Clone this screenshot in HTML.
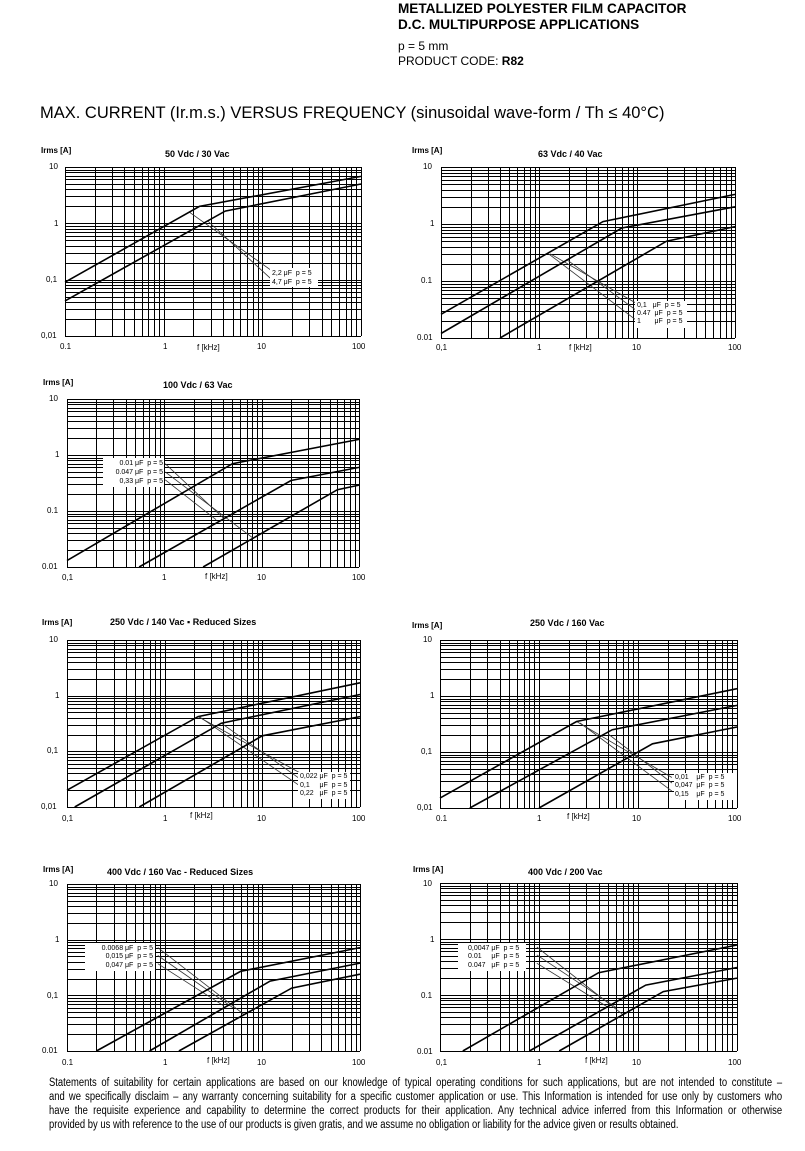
<!DOCTYPE html>
<html><head><meta charset="utf-8">
<style>
body{margin:0;background:#fff;width:805px;height:1151px;position:relative;overflow:hidden;font-family:"Liberation Sans",Arial,sans-serif;color:#000}
.t{position:absolute;white-space:nowrap;line-height:1}
.s{font-size:8px}
.b{font-weight:bold}
.lab{position:absolute;background:#fff}
.fl{position:absolute;left:49px;width:894px;font-size:11.5px;transform:scaleX(0.82);transform-origin:0 0;text-align:justify;text-align-last:justify;white-space:nowrap;line-height:1}
svg{position:absolute;left:0;top:0}
</style></head><body>
<svg id="g" width="805" height="1151"></svg>

<div class="t b" style="left:398px;top:1px;font-size:14px;transform:scaleX(0.97);transform-origin:0 0">METALLIZED POLYESTER FILM CAPACITOR</div>
<div class="t b" style="left:398px;top:17px;font-size:14px;transform:scaleX(0.97);transform-origin:0 0">D.C. MULTIPURPOSE APPLICATIONS</div>
<div class="t" style="left:398px;top:40px;font-size:12px">p = 5 mm</div>
<div class="t" style="left:398px;top:55px;font-size:12px">PRODUCT CODE: <b>R82</b></div>
<div class="t" style="left:40px;top:105px;font-size:16.5px">MAX. CURRENT (Ir.m.s.) VERSUS FREQUENCY (sinusoidal wave-form / Th ≤ 40°C)</div>

<!-- chart 1 -->
<div class="t s b" style="left:41px;top:147px">Irms [A]</div>
<div class="t b" style="left:165px;top:150px;font-size:9px">50 Vdc / 30 Vac</div>
<div class="t s" style="left:49px;top:163px">10</div>
<div class="t s" style="left:54px;top:220px">1</div>
<div class="t s" style="left:46px;top:276px">0,1</div>
<div class="t s" style="left:41px;top:332px">0,01</div>
<div class="t s" style="left:60px;top:343px">0.1</div>
<div class="t s" style="left:163px;top:343px">1</div>
<div class="t s" style="left:257px;top:343px">10</div>
<div class="t s" style="left:352px;top:343px">100</div>
<div class="t s" style="left:197px;top:344px">f [kHz]</div>
<div class="lab" style="left:270px;top:268px;width:48px;height:19px"></div>
<div class="t" style="left:272px;top:270px;font-size:7px">2,2 μF &nbsp;p = 5</div>
<div class="t" style="left:272px;top:279px;font-size:7px">4,7 μF &nbsp;p = 5</div>

<!-- chart 2 -->
<div class="t s b" style="left:412px;top:147px">Irms [A]</div>
<div class="t b" style="left:538px;top:150px;font-size:9px">63 Vdc / 40 Vac</div>
<div class="t s" style="left:423px;top:163px">10</div>
<div class="t s" style="left:430px;top:220px">1</div>
<div class="t s" style="left:421px;top:277px">0.1</div>
<div class="t s" style="left:417px;top:334px">0.01</div>
<div class="t s" style="left:436px;top:344px">0,1</div>
<div class="t s" style="left:537px;top:344px">1</div>
<div class="t s" style="left:632px;top:344px">10</div>
<div class="t s" style="left:728px;top:344px">100</div>
<div class="t s" style="left:569px;top:344px">f [kHz]</div>
<div class="lab" style="left:635px;top:301px;width:52px;height:27px"></div>
<div class="t" style="left:637px;top:302px;font-size:7px">0,1 &nbsp;&nbsp;μF &nbsp;p = 5</div>
<div class="t" style="left:637px;top:310px;font-size:7px">0.47 &nbsp;μF &nbsp;p = 5</div>
<div class="t" style="left:637px;top:318px;font-size:7px">1 &nbsp;&nbsp;&nbsp;&nbsp;&nbsp;&nbsp;μF &nbsp;p = 5</div>

<!-- chart 3 -->
<div class="t s b" style="left:43px;top:379px">Irms [A]</div>
<div class="t b" style="left:163px;top:381px;font-size:9px">100 Vdc / 63 Vac</div>
<div class="t s" style="left:49px;top:395px">10</div>
<div class="t s" style="left:55px;top:451px">1</div>
<div class="t s" style="left:47px;top:507px">0.1</div>
<div class="t s" style="left:42px;top:563px">0.01</div>
<div class="t s" style="left:62px;top:574px">0,1</div>
<div class="t s" style="left:162px;top:574px">1</div>
<div class="t s" style="left:257px;top:574px">10</div>
<div class="t s" style="left:352px;top:574px">100</div>
<div class="t s" style="left:205px;top:573px">f [kHz]</div>
<div class="lab" style="left:103px;top:458px;width:61px;height:29px"></div>
<div class="t" style="right:642px;top:460px;font-size:7px">0.01 μF &nbsp;p = 5</div>
<div class="t" style="right:642px;top:469px;font-size:7px">0.047 μF &nbsp;p = 5</div>
<div class="t" style="right:642px;top:478px;font-size:7px">0,33 μF &nbsp;p = 5</div>

<!-- chart 4 -->
<div class="t s b" style="left:42px;top:619px">Irms [A]</div>
<div class="t b" style="left:110px;top:618px;font-size:9px">250 Vdc / 140 Vac ▪ Reduced Sizes</div>
<div class="t s" style="left:49px;top:636px">10</div>
<div class="t s" style="left:55px;top:692px">1</div>
<div class="t s" style="left:47px;top:747px">0,1</div>
<div class="t s" style="left:41px;top:803px">0,01</div>
<div class="t s" style="left:62px;top:815px">0,1</div>
<div class="t s" style="left:163px;top:815px">1</div>
<div class="t s" style="left:257px;top:815px">10</div>
<div class="t s" style="left:352px;top:815px">100</div>
<div class="t s" style="left:190px;top:812px">f [kHz]</div>
<div class="lab" style="left:298px;top:772px;width:52px;height:27px"></div>
<div class="t" style="left:300px;top:773px;font-size:7px">0,022 μF &nbsp;p = 5</div>
<div class="t" style="left:300px;top:782px;font-size:7px">0,1 &nbsp;&nbsp;&nbsp;&nbsp;μF &nbsp;p = 5</div>
<div class="t" style="left:300px;top:790px;font-size:7px">0,22 &nbsp;&nbsp;μF &nbsp;p = 5</div>

<!-- chart 5 -->
<div class="t s b" style="left:412px;top:622px">Irms [A]</div>
<div class="t b" style="left:530px;top:619px;font-size:9px">250 Vdc / 160 Vac</div>
<div class="t s" style="left:423px;top:636px">10</div>
<div class="t s" style="left:430px;top:692px">1</div>
<div class="t s" style="left:421px;top:748px">0,1</div>
<div class="t s" style="left:417px;top:804px">0,01</div>
<div class="t s" style="left:436px;top:815px">0.1</div>
<div class="t s" style="left:537px;top:815px">1</div>
<div class="t s" style="left:632px;top:815px">10</div>
<div class="t s" style="left:728px;top:815px">100</div>
<div class="t s" style="left:567px;top:813px">f [kHz]</div>
<div class="lab" style="left:674px;top:773px;width:63px;height:27px"></div>
<div class="t" style="left:675px;top:774px;font-size:7px">0,01 &nbsp;&nbsp;&nbsp;μF &nbsp;p = 5</div>
<div class="t" style="left:675px;top:782px;font-size:7px">0,047 &nbsp;μF &nbsp;p = 5</div>
<div class="t" style="left:675px;top:791px;font-size:7px">0,15 &nbsp;&nbsp;&nbsp;μF &nbsp;p = 5</div>

<!-- chart 6 -->
<div class="t s b" style="left:43px;top:866px">Irms [A]</div>
<div class="t b" style="left:107px;top:868px;font-size:9px">400 Vdc / 160 Vac - Reduced Sizes</div>
<div class="t s" style="left:49px;top:880px">10</div>
<div class="t s" style="left:55px;top:936px">1</div>
<div class="t s" style="left:47px;top:992px">0,1</div>
<div class="t s" style="left:42px;top:1047px">0.01</div>
<div class="t s" style="left:62px;top:1059px">0.1</div>
<div class="t s" style="left:163px;top:1059px">1</div>
<div class="t s" style="left:257px;top:1059px">10</div>
<div class="t s" style="left:352px;top:1059px">100</div>
<div class="t s" style="left:207px;top:1057px">f [kHz]</div>
<div class="lab" style="left:85px;top:943px;width:70px;height:28px"></div>
<div class="t" style="right:652px;top:945px;font-size:7px">0.0068 μF &nbsp;p = 5</div>
<div class="t" style="right:652px;top:953px;font-size:7px">0,015 μF &nbsp;p = 5</div>
<div class="t" style="right:652px;top:962px;font-size:7px">0,047 μF &nbsp;p = 5</div>

<!-- chart 7 -->
<div class="t s b" style="left:413px;top:866px">Irms [A]</div>
<div class="t b" style="left:528px;top:868px;font-size:9px">400 Vdc / 200 Vac</div>
<div class="t s" style="left:423px;top:880px">10</div>
<div class="t s" style="left:430px;top:936px">1</div>
<div class="t s" style="left:421px;top:992px">0.1</div>
<div class="t s" style="left:417px;top:1048px">0.01</div>
<div class="t s" style="left:436px;top:1059px">0,1</div>
<div class="t s" style="left:537px;top:1059px">1</div>
<div class="t s" style="left:632px;top:1059px">10</div>
<div class="t s" style="left:728px;top:1059px">100</div>
<div class="t s" style="left:585px;top:1057px">f [kHz]</div>
<div class="lab" style="left:458px;top:943px;width:68px;height:28px"></div>
<div class="t" style="left:468px;top:945px;font-size:7px">0,0047 μF &nbsp;p = 5</div>
<div class="t" style="left:468px;top:953px;font-size:7px">0.01 &nbsp;&nbsp;&nbsp;&nbsp;μF &nbsp;p = 5</div>
<div class="t" style="left:468px;top:962px;font-size:7px">0.047 &nbsp;&nbsp;μF &nbsp;p = 5</div>

<div class="fl" style="top:1078px">Statements of suitability for certain applications are based on our knowledge of typical operating conditions for such applications, but are not intended to constitute –</div>
<div class="fl" style="top:1092px">and we specifically disclaim – any warranty concerning suitability for a specific customer application or use. This Information is intended for use only by customers who</div>
<div class="fl" style="top:1106px">have the requisite experience and capability to determine the correct products for their application. Any technical advice inferred from this Information or otherwise</div>
<div class="fl" style="top:1120px;text-align-last:left">provided by us with reference to the use of our products is given gratis, and we assume no obligation or liability for the advice given or results obtained.</div>

<script>
var charts=[
{L:65,R:361,T:167,B:336,s:[[[0.1,0.09],[2.3,2.0],[100,6.8]],[[0.1,0.042],[4.2,1.65],[100,5]]],
 l:[[[1.8,1.6],[13.5,0.13]],[[2.8,1.1],[12.5,0.1]]],box:[270,268,48,19]},
{L:441,R:735,T:167,B:338,s:[[[0.1,0.026],[4.5,1.1],[100,3.3]],[[0.1,0.012],[7,0.85],[100,2.0]],[[0.4,0.01],[20,0.5],[100,0.9]]],
 l:[[[1.3,0.3],[10,0.04]],[[1.9,0.24],[10,0.03]],[[1.25,0.3],[10,0.02]]],box:[635,301,52,27]},
{L:67,R:359,T:399,B:567,s:[[[0.1,0.013],[5,0.7],[100,1.9]],[[0.55,0.01],[20,0.35],[100,0.6]],[[2.5,0.01],[60,0.24],[100,0.29]]],
 l:[[[1.02,0.7],[4.1,0.073]],[[1.02,0.5],[8.3,0.032]],[[1.02,0.36],[3.4,0.07]]],box:[103,458,61,29]},
{L:67,R:360,T:640,B:807,s:[[[0.1,0.02],[2.2,0.42],[100,1.7]],[[0.12,0.01],[3.8,0.32],[100,1.05]],[[0.55,0.01],[10,0.19],[100,0.42]]],
 l:[[[2.2,0.42],[27,0.037]],[[3.8,0.32],[27,0.028]],[[2.3,0.41],[27,0.021]]],box:[298,772,52,27]},
{L:440,R:737,T:640,B:808,s:[[[0.1,0.015],[2.4,0.35],[100,1.35]],[[0.2,0.01],[5.5,0.25],[100,0.68]],[[1,0.01],[14,0.14],[100,0.28]]],
 l:[[[2.4,0.35],[22,0.035]],[[5,0.21],[22,0.028]],[[2.6,0.33],[22,0.02]]],box:[674,773,63,27]},
{L:67,R:360,T:884,B:1051,s:[[[0.2,0.01],[6,0.27],[100,0.72]],[[0.7,0.01],[12,0.18],[100,0.38]],[[1.4,0.01],[20,0.135],[100,0.24]]],
 l:[[[0.85,0.72],[6.5,0.045]],[[0.85,0.52],[5,0.06]],[[0.85,0.37],[4,0.065]]],box:[85,943,70,28]},
{L:440,R:737,T:883,B:1051,s:[[[0.17,0.01],[4,0.25],[100,0.78]],[[0.8,0.01],[12,0.15],[100,0.31]],[[1.6,0.01],[18,0.115],[100,0.2]]],
 l:[[[0.95,0.72],[7,0.045]],[[0.95,0.52],[6,0.06]],[[0.95,0.37],[5,0.06]]],box:[458,943,68,28]}
];
var svg=document.getElementById('g'),h='';
function ln(x1,y1,x2,y2,w,c){h+='<line x1="'+x1.toFixed(1)+'" y1="'+y1.toFixed(1)+'" x2="'+x2.toFixed(1)+'" y2="'+y2.toFixed(1)+'" stroke="'+(c||'#000')+'" stroke-width="'+w+'"/>';}
function sn(v){return Math.round(v)+0.5;}
charts.forEach(function(c){
 var X=function(f){return c.L+(Math.log10(f)+1)/3*(c.R-c.L)};
 var Y=function(v){return c.B-(Math.log10(v)+2)/3*(c.B-c.T)};
 for(var d=-1;d<3;d++)for(var k=1;k<10;k++){if(d==2&&k>1)break;var x=sn(X(k*Math.pow(10,d)));ln(x,c.T,x,c.B,1);}
 for(var d=-2;d<2;d++)for(var k=1;k<10;k++){if(d==1&&k>1)break;var y=sn(Y(k*Math.pow(10,d)));ln(c.L,y,c.R,y,1);}
 var b=c.box;h+='<rect x="'+b[0]+'" y="'+b[1]+'" width="'+b[2]+'" height="'+b[3]+'" fill="#fff"/>';
 c.l.forEach(function(p){ln(X(p[0][0]),Y(p[0][1]),X(p[1][0]),Y(p[1][1]),0.8,'#333');});
 c.s.forEach(function(s){var pts=s.map(function(p){return X(p[0]).toFixed(1)+','+Y(p[1]).toFixed(1)}).join(' ');
  h+='<polyline points="'+pts+'" fill="none" stroke="#000" stroke-width="1.6"/>';});
});
svg.innerHTML=h;
</script>
</body></html>
